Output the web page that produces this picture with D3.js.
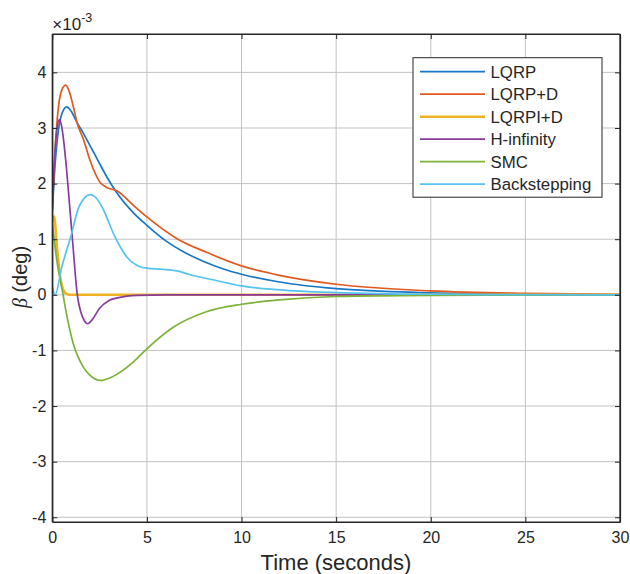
<!DOCTYPE html>
<html>
<head>
<meta charset="utf-8">
<script src="https://cdn.jsdelivr.net/npm/d3@7"></script>
<style>
  html, body { margin: 0; padding: 0; background: #fff; }
  svg { display: block; font-family: "Liberation Sans", Arial, Helvetica, sans-serif; }
</style>
</head>
<body>
<svg id="chart" width="630" height="574"></svg>
<script>
// ---- data (values in units of 1e-3 deg) ----
const seriesNames = ["LQRP", "LQRP+D", "LQRPI+D", "H-infinity", "SMC", "Backstepping"];
const seriesColors = ["#1677C7", "#E0591F", "#EFB223", "#8A3A9C", "#7BB237", "#55C3F0"];

const tLQRP = [0, 0.15, 0.3, 0.5, 0.76, 1.0, 1.3, 1.6, 2.0, 2.5, 2.9, 3.4, 4.3, 5, 6, 7, 8, 9, 10, 12, 15, 20, 25, 30];
const vLQRP = [1.5, 2.35, 2.9, 3.25, 3.38, 3.3, 3.1, 2.93, 2.68, 2.36, 2.11, 1.84, 1.47, 1.25, 0.97, 0.76, 0.6, 0.47, 0.37, 0.23, 0.11, 0.035, 0.01, 0];

const tLQRPD = [0, 0.15, 0.3, 0.5, 0.71, 0.9, 1.1, 1.32, 1.64, 2.0, 2.53, 2.88, 3.41, 4.29, 5, 6.59, 8.18, 10, 12, 15, 20, 25, 30];
const vLQRPD = [1.55, 2.6, 3.3, 3.68, 3.77, 3.65, 3.4, 3.08, 2.8, 2.41, 2.02, 1.93, 1.87, 1.61, 1.40, 1.01, 0.76, 0.52, 0.35, 0.19, 0.07, 0.026, 0.01];

const tLQRPID = [0, 0.09, 0.26, 0.44, 0.62, 0.8, 1.0, 30];
const vLQRPID = [1.3, 1.41, 0.8, 0.27, 0.06, 0.01, 0, 0];

const tHinf = [0, 0.1, 0.2, 0.38, 0.5, 0.7, 0.88, 1.1, 1.32, 1.5, 1.7, 1.87, 2.1, 2.5, 3.0, 3.5, 4.5, 6, 10, 30];
const vHinf = [1.55, 2.3, 2.85, 3.15, 3.02, 2.45, 1.75, 0.85, 0.0, -0.3, -0.47, -0.52, -0.45, -0.24, -0.1, -0.05, -0.01, 0, 0, 0];

const tSMC = [0, 0.26, 0.53, 0.71, 1.11, 1.64, 2.0, 2.53, 3.0, 3.59, 4.3, 5, 6.41, 8.18, 10, 12, 15, 20, 30];
const vSMC = [1.28, 0.57, 0.08, -0.27, -0.88, -1.30, -1.45, -1.54, -1.50, -1.39, -1.2, -0.97, -0.58, -0.30, -0.17, -0.09, -0.03, -0.01, 0];

const tBack = [0, 0.15, 0.5, 0.97, 1.41, 2.0, 2.3, 2.7, 3.3, 3.94, 4.64, 5, 5.8, 6.6, 7.3, 8.35, 10, 12, 15, 20, 30];
const vBack = [0.15, 0, 0.5, 1.04, 1.58, 1.80, 1.75, 1.53, 1.05, 0.68, 0.505, 0.48, 0.46, 0.43, 0.36, 0.28, 0.16, 0.09, 0.04, 0.01, 0];

const xTicks = [0, 5, 10, 15, 20, 25, 30];
const yTicks = [-4, -3, -2, -1, 0, 1, 2, 3, 4];
const xDomain = [0, 30];
const yDomain = [-4.085, 4.69];

const seriesT = [tLQRP, tLQRPD, tLQRPID, tHinf, tSMC, tBack];
const seriesV = [vLQRP, vLQRPD, vLQRPID, vHinf, vSMC, vBack];

// ---- layout ----
const L = 52.3, R = 620, T = 34, B = 522;
const axisColor = "#262626";
const gridColor = "#c2c2c2";

const svg = d3.select("#chart");
const x = d3.scaleLinear().domain(xDomain).range([L, R]);
const y = d3.scaleLinear().domain(yDomain).range([B, T]);

// grid
const g = svg.append("g");
g.selectAll("line.gx").data(xTicks).join("line")
  .attr("x1", d => x(d)).attr("x2", d => x(d)).attr("y1", T).attr("y2", B)
  .attr("stroke", gridColor).attr("stroke-width", 1);
g.selectAll("line.gy").data(yTicks).join("line")
  .attr("x1", L).attr("x2", R).attr("y1", d => y(d)).attr("y2", d => y(d))
  .attr("stroke", gridColor).attr("stroke-width", 1);

// lines
svg.append("clipPath").attr("id", "clip").append("rect")
  .attr("x", L).attr("y", T).attr("width", R - L).attr("height", B - T);
const line = d3.line().x(d => x(d[0])).y(d => y(d[1])).curve(d3.curveMonotoneX);
const lg = svg.append("g").attr("clip-path", "url(#clip)");
seriesNames.forEach((name, i) => {
  const pts = seriesT[i].map((t, k) => [t, seriesV[i][k]]);
  lg.append("path").datum(pts)
    .attr("d", line)
    .attr("fill", "none")
    .attr("stroke", seriesColors[i])
    .attr("stroke-width", i === 2 ? 2.6 : 1.7)
    .attr("stroke-linejoin", "round");
});

// axes (ticks inward, box)
const tickLen = 5;
const xb = svg.append("g").attr("transform", `translate(0,${B})`)
  .call(d3.axisBottom(x).tickValues(xTicks).tickSizeInner(-tickLen).tickSizeOuter(0).tickPadding(10).tickFormat(d3.format("d")));
const xt = svg.append("g").attr("transform", `translate(0,${T})`)
  .call(d3.axisTop(x).tickValues(xTicks).tickSizeInner(-tickLen).tickSizeOuter(0).tickFormat(""));
const yl = svg.append("g").attr("transform", `translate(${L},0)`)
  .call(d3.axisLeft(y).tickValues(yTicks).tickSizeInner(-tickLen).tickSizeOuter(0).tickPadding(6).tickFormat(d3.format("d")));
const yr = svg.append("g").attr("transform", `translate(${R},0)`)
  .call(d3.axisRight(y).tickValues(yTicks).tickSizeInner(-tickLen).tickSizeOuter(0).tickFormat(""));
[xb, xt, yl, yr].forEach(a => {
  a.select(".domain").attr("stroke", axisColor).attr("stroke-width", 1.2);
  a.selectAll(".tick line").attr("stroke", axisColor).attr("stroke-width", 1);
  a.selectAll(".tick text").attr("fill", axisColor).style("font-size", "16px")
    .style("font-family", '"Liberation Sans", Arial, sans-serif');
});
yl.selectAll(".tick text").text(d => d < 0 ? "-" + Math.abs(d) : d);
// full box lines
[[L, R, T, T], [L, R, B, B], [L, L, T, B], [R, R, T, B]].forEach(c => {
  svg.append("line").attr("x1", c[0]).attr("x2", c[1]).attr("y1", c[2]).attr("y2", c[3])
    .attr("stroke", axisColor).attr("stroke-width", 1.2);
});

// exponent label
const ex = svg.append("text").attr("x", L).attr("y", 30).attr("fill", axisColor)
  .style("font-size", "17px");
ex.append("tspan").text("\u00D710");
ex.append("tspan").attr("dy", -8).style("font-size", "12.5px").text("-3");

// axis labels
svg.append("text").attr("x", 336).attr("y", 570)
  .attr("text-anchor", "middle").attr("fill", axisColor).style("font-size", "22px")
  .text("Time (seconds)");
const yLab = svg.append("text")
  .attr("transform", `translate(27,277) rotate(-90)`)
  .attr("text-anchor", "middle").attr("fill", axisColor).style("font-size", "20px");
yLab.append("tspan").style("font-family", '"Liberation Serif", "Times New Roman", serif').style("font-style", "italic").text("\u03B2");
yLab.append("tspan").text(" (deg)");

// legend
const lgX = 413, lgY = 57.7, lgW = 189, lgH = 139.5;
const leg = svg.append("g");
leg.append("rect").attr("x", lgX).attr("y", lgY).attr("width", lgW).attr("height", lgH)
  .attr("fill", "#fff").attr("stroke", axisColor).attr("stroke-width", 1);
seriesNames.forEach((name, i) => {
  const cy = 71.7 + i * 22.5;
  leg.append("line").attr("x1", 420).attr("x2", 485).attr("y1", cy).attr("y2", cy)
    .attr("stroke", seriesColors[i]).attr("stroke-width", i === 2 ? 2.6 : 1.7);
  leg.append("text").attr("x", 490.5).attr("y", cy).attr("dy", "0.36em")
    .attr("fill", axisColor).style("font-size", "16.8px").text(name);
});
</script>
</body>
</html>
